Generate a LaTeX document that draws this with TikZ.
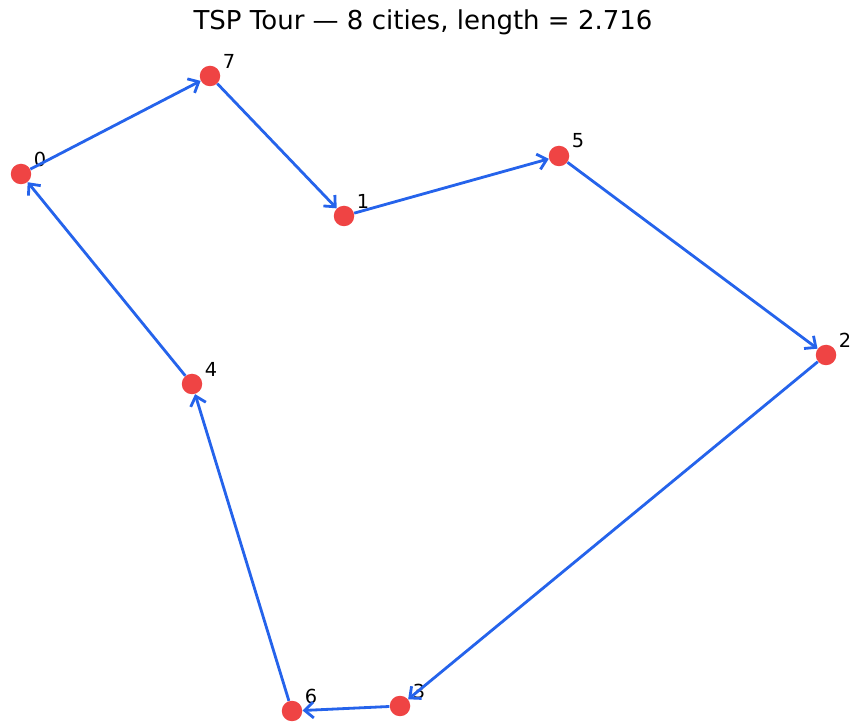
\documentclass[tikz,border=0pt]{standalone}
\usepackage{fontspec}
\setmainfont{DejaVu Sans}
\usetikzlibrary{arrows.meta}
\definecolor{tourblue}{HTML}{2563EB}
\definecolor{cityred}{HTML}{EF4444}
\tikzset{
  city/.style ={circle, fill=cityred, draw=none, minimum size=0.41cm, inner sep=0pt},
  cid/.style  ={font=\fontsize{11}{13}\selectfont, text=black, inner sep=0pt},
  hop/.style  ={-{Straight Barb[length=5pt,width=9pt]}, line width=1.6pt, draw=tourblue},
  ttl/.style  ={font=\fontsize{14.8}{17}\selectfont, text=black, inner sep=0pt}
}
\begin{document}
\begin{tikzpicture}[x=0.02cm,y=-0.02cm]
  \useasboundingbox (0,0) rectangle (852,722);
  \node[ttl] (title) at (423,22) {TSP Tour — 8 cities, length = 2.716};
  % cities
  \node[city] (c0) at (21,174) {};
  \node[city] (c1) at (344,216) {};
  \node[city] (c2) at (826,355) {};
  \node[city] (c3) at (400,706) {};
  \node[city] (c4) at (192,384) {};
  \node[city] (c5) at (559,156) {};
  \node[city] (c6) at (292,711) {};
  \node[city] (c7) at (210,76) {};
  % ids
  \node[cid] (l0) at (40,159) {0};
  \node[cid] (l1) at (363,201) {1};
  \node[cid] (l2) at (845,340) {2};
  \node[cid] (l3) at (419,691) {3};
  \node[cid] (l4) at (211,369) {4};
  \node[cid] (l5) at (578,141) {5};
  \node[cid] (l6) at (311,696) {6};
  \node[cid] (l7) at (229,61) {7};
  % tour
  \draw[hop] (c0) -- (c7);
  \draw[hop] (c7) -- (c1);
  \draw[hop] (c1) -- (c5);
  \draw[hop] (c5) -- (c2);
  \draw[hop] (c2) -- (c3);
  \draw[hop] (c3) -- (c6);
  \draw[hop] (c6) -- (c4);
  \draw[hop] (c4) -- (c0);
\end{tikzpicture}
\end{document}
